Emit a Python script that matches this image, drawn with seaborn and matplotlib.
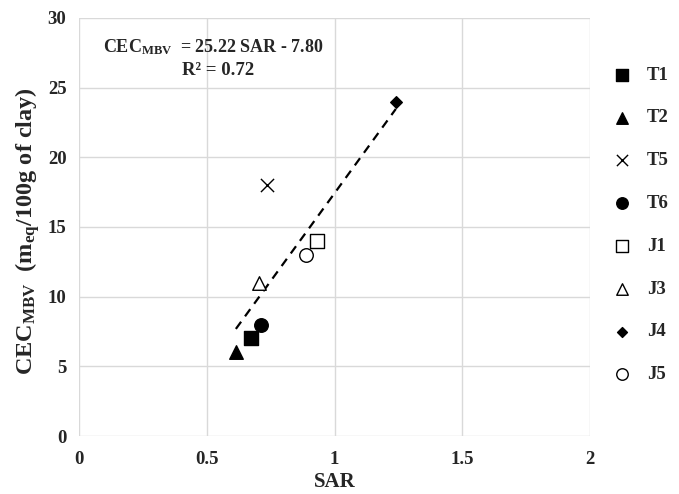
import matplotlib
matplotlib.use("Agg")
import matplotlib.pyplot as plt
import seaborn as sns
import pandas as pd

samples = ["T1", "T2", "T5", "T6", "J1", "J3", "J4", "J5"]
sar = [0.673, 0.614, 0.736, 0.712, 0.930, 0.704, 1.240, 0.888]
cec = [7.0, 6.0, 18.0, 8.0, 14.0, 11.0, 24.0, 13.0]
slope, intercept = 25.22, -7.80

sns.set_theme(style="white")
plt.rcParams["font.family"] = ["Liberation Serif", "DejaVu Serif"]
plt.rcParams["font.weight"] = "bold"
plt.rcParams["mathtext.fontset"] = "custom"
plt.rcParams["mathtext.rm"] = "Liberation Serif:bold"
plt.rcParams["mathtext.it"] = "Liberation Serif:bold"
plt.rcParams["mathtext.bf"] = "Liberation Serif:bold"

fig = plt.figure(figsize=(6.79, 4.94), dpi=100)
ax = fig.add_axes([0.1163, 0.1174, 0.7527, 0.8462])

styles = {
    "T1": dict(marker="s", fc="black", s=90),
    "T2": dict(marker="^", fc="black", s=95),
    "T5": dict(marker="x", fc="black", s=90),
    "T6": dict(marker="o", fc="black", s=95),
    "J1": dict(marker="s", fc="white", s=90),
    "J3": dict(marker="^", fc="white", s=95),
    "J4": dict(marker="D", fc="black", s=35),
    "J5": dict(marker="o", fc="white", s=95),
}
df = pd.DataFrame({"sample": samples, "SAR": sar, "CEC": cec})
for _, row in df.iterrows():
    st = styles[row["sample"]]
    sub = df[df["sample"] == row["sample"]]
    if st["marker"] == "x":
        sns.scatterplot(data=sub, x="SAR", y="CEC", marker="x", color="black",
                        s=st["s"], linewidth=1.0, ax=ax, label=row["sample"], zorder=3)
    else:
        sns.scatterplot(data=sub, x="SAR", y="CEC", marker=st["marker"],
                        facecolor=st["fc"], edgecolor="black", s=st["s"],
                        linewidth=1.0, ax=ax, label=row["sample"], zorder=3)

xmin, xmax = min(sar), max(sar)
line_df = pd.DataFrame({"x": [xmin, xmax], "y": [slope * xmin + intercept, slope * xmax + intercept]})
sns.lineplot(data=line_df, x="x", y="y", color="black", linestyle=(0, (4, 3)),
             linewidth=1.6, ax=ax, zorder=2)

ax.set_xlim(0, 2)
ax.set_ylim(0, 30)
ax.set_xticks([0, 0.5, 1, 1.5, 2])
ax.set_xticklabels(["0", "0.5", "1", "1.5", "2"])
ax.set_yticks(range(0, 31, 5))
ax.grid(True, color="#d9d9d9", linewidth=1.0)
for sp in ax.spines.values():
    sp.set_visible(False)
ax.tick_params(axis="x", labelsize=13.5, length=0, pad=11)
ax.tick_params(axis="y", labelsize=13.5, length=0, pad=9)
for lab in ax.get_xticklabels() + ax.get_yticklabels():
    lab.set_fontweight("bold")

ax.set_xlabel("SAR", fontsize=15, fontweight="bold", labelpad=3)
ax.set_ylabel(r"CEC$_{\mathrm{MBV}}$  (m$_{\mathrm{eq}}$/100g of clay)", fontsize=17.5,
              fontweight="bold")
ax.yaxis.set_label_coords(-0.073, 0.49)

ax.text(0.047, 0.93, r"CEC$_{\mathrm{MBV}}$  = 25.22 SAR - 7.80", transform=ax.transAxes,
        fontsize=13, fontweight="bold", ha="left", va="center")
ax.text(0.201, 0.875, "R² = 0.72", transform=ax.transAxes,
        fontsize=13.5, fontweight="bold", ha="left", va="center")

leg = ax.legend(loc="center left", bbox_to_anchor=(1.03, 0.505), frameon=False,
                labelspacing=1.37, handlelength=1.0, handletextpad=0.8, fontsize=13.5,
                borderaxespad=0, markerscale=0.85)
for t in leg.get_texts():
    t.set_fontweight("bold")

fig.savefig("out.png", dpi=100)
